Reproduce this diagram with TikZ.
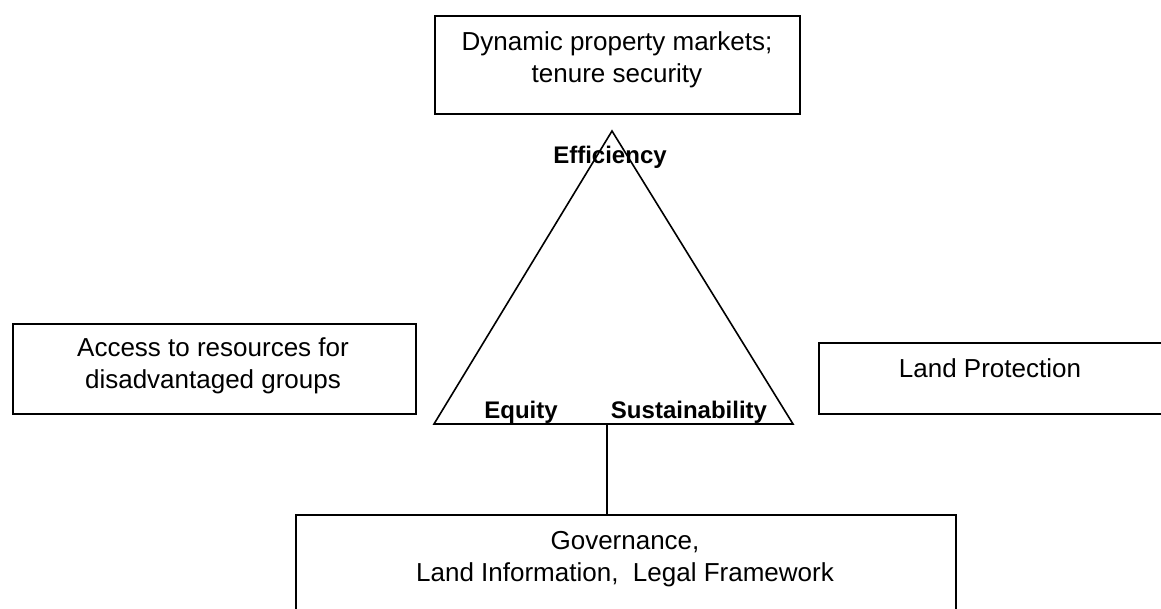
\documentclass[tikz,border=0pt]{standalone}
\usepackage{fontspec}
\setmainfont{Liberation Sans}
\begin{document}
\begin{tikzpicture}[x=1pt,y=-1pt,
  frame/.style={draw, line width=1.6pt, rectangle, inner sep=0pt, anchor=north west},
  txt/.style={font=\fontsize{26}{32}\selectfont, align=center, inner sep=0pt},
  lbl/.style={font=\fontsize{24}{29}\selectfont\bfseries, inner sep=0pt},
  edge/.style={line width=1.6pt}]
\useasboundingbox (0,0) rectangle (1161,608);
% boxes
\node[frame, minimum width=365pt, minimum height=98pt] (topbox) at (434,15) {};
\node[txt] (toptxt) at (617,60) {Dynamic property markets;\\tenure security};
\node[frame, minimum width=403pt, minimum height=90pt] (leftbox) at (12,323) {};
\node[txt] (lefttxt) at (213,366) {Access to resources for\\disadvantaged groups};
\node[frame, minimum width=344pt, minimum height=71pt] (rightbox) at (818,342) {};
\node[txt] (righttxt) at (990,368) {Land Protection};
\node[frame, minimum width=660pt, minimum height=100pt] (botbox) at (295,514) {};
\node[txt] (bottxt) at (625,559) {Governance,\\Land Information,\ \ Legal Framework};
% triangle
\coordinate (apex) at (612,131);
\coordinate (bl) at (434,424);
\coordinate (br) at (793,424);
\draw[edge, line join=miter] (apex) -- (bl) -- (br) -- cycle;
\node[lbl] (eff) at (610,157) {Efficiency};
\node[lbl] (equ) at (521,412) {Equity};
\node[lbl] (sus) at (689,412) {Sustainability};
% connector
\coordinate (tb) at (607,424);
\draw[edge] (tb) -- (tb |- botbox.north);
\end{tikzpicture}
\end{document}
